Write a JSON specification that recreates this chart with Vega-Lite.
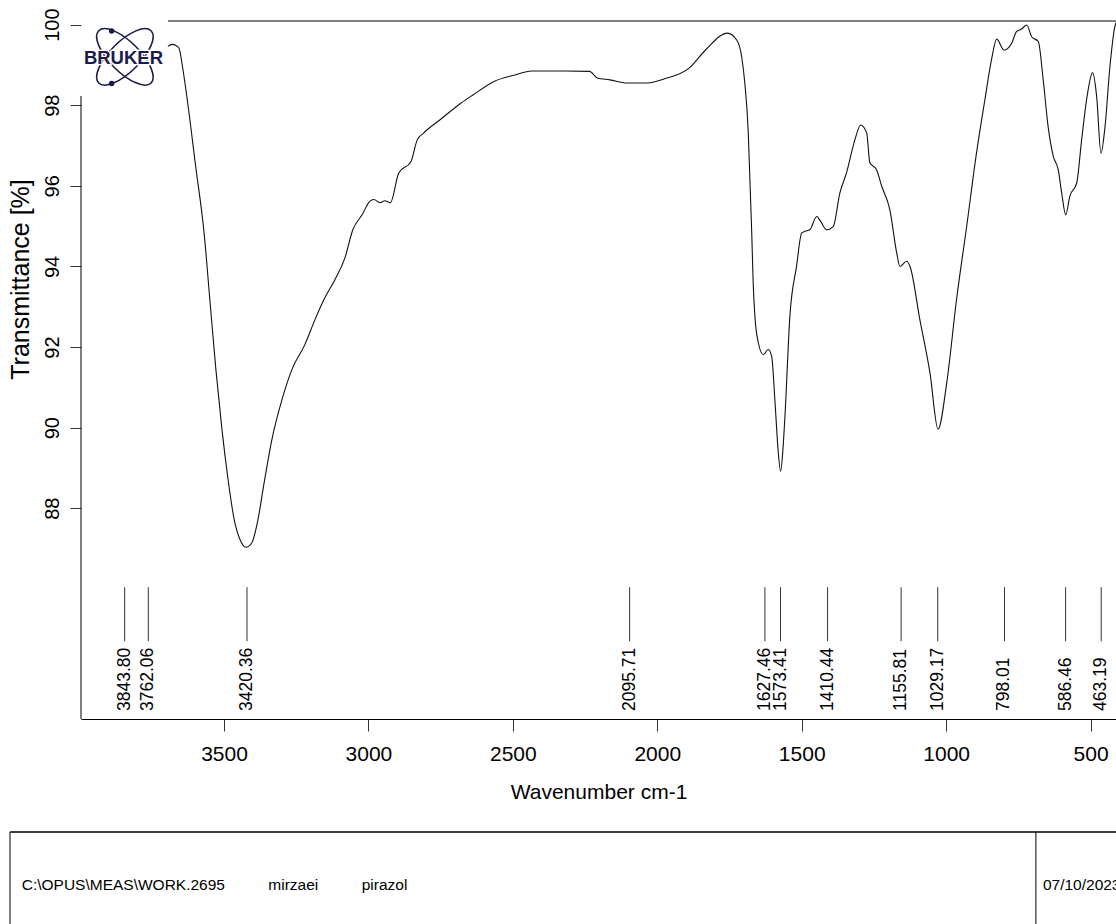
{
  "$schema": "https://vega.github.io/schema/vega-lite/v6.json",
  "autosize": {"type": "none"},
  "padding": {"left": 81, "top": 21, "right": 0, "bottom": 205},
  "width": 1035,
  "height": 698,
  "background": "white",
  "config": {"view": {"stroke": null}},
  "datasets": {
    "spectrum": [
      {"wn": 3694, "T": 99.46}, {"wn": 3680, "T": 99.51}, {"wn": 3666, "T": 99.48}, {"wn": 3656, "T": 99.42},
      {"wn": 3642, "T": 98.88}, {"wn": 3627, "T": 98.13}, {"wn": 3598, "T": 96.48}, {"wn": 3569, "T": 94.84},
      {"wn": 3549, "T": 93.18}, {"wn": 3528, "T": 91.44}, {"wn": 3507, "T": 89.95}, {"wn": 3486, "T": 88.72},
      {"wn": 3465, "T": 87.73}, {"wn": 3445, "T": 87.23}, {"wn": 3424, "T": 87.03}, {"wn": 3403, "T": 87.15},
      {"wn": 3382, "T": 87.73}, {"wn": 3362, "T": 88.59}, {"wn": 3334, "T": 89.71}, {"wn": 3299, "T": 90.70},
      {"wn": 3265, "T": 91.44}, {"wn": 3220, "T": 92.06}, {"wn": 3185, "T": 92.68}, {"wn": 3154, "T": 93.18},
      {"wn": 3116, "T": 93.67}, {"wn": 3081, "T": 94.22}, {"wn": 3054, "T": 94.91}, {"wn": 3022, "T": 95.28},
      {"wn": 2996, "T": 95.61}, {"wn": 2981, "T": 95.66}, {"wn": 2960, "T": 95.58}, {"wn": 2943, "T": 95.63},
      {"wn": 2924, "T": 95.58}, {"wn": 2895, "T": 96.32}, {"wn": 2853, "T": 96.60}, {"wn": 2831, "T": 97.14},
      {"wn": 2809, "T": 97.31}, {"wn": 2752, "T": 97.64}, {"wn": 2680, "T": 98.05}, {"wn": 2637, "T": 98.26},
      {"wn": 2565, "T": 98.59}, {"wn": 2493, "T": 98.75}, {"wn": 2436, "T": 98.85}, {"wn": 2321, "T": 98.85},
      {"wn": 2235, "T": 98.84}, {"wn": 2206, "T": 98.67}, {"wn": 2164, "T": 98.63}, {"wn": 2106, "T": 98.55},
      {"wn": 2034, "T": 98.55}, {"wn": 1977, "T": 98.65}, {"wn": 1890, "T": 98.92}, {"wn": 1833, "T": 99.37},
      {"wn": 1757, "T": 99.79}, {"wn": 1725, "T": 99.62}, {"wn": 1708, "T": 99.21}, {"wn": 1697, "T": 98.55},
      {"wn": 1685, "T": 97.31}, {"wn": 1679, "T": 96.07}, {"wn": 1673, "T": 94.83}, {"wn": 1668, "T": 93.59},
      {"wn": 1662, "T": 92.76}, {"wn": 1650, "T": 92.10}, {"wn": 1633, "T": 91.81}, {"wn": 1616, "T": 91.94},
      {"wn": 1604, "T": 91.77}, {"wn": 1593, "T": 90.70}, {"wn": 1582, "T": 89.46}, {"wn": 1573, "T": 88.92},
      {"wn": 1565, "T": 89.46}, {"wn": 1558, "T": 90.29}, {"wn": 1541, "T": 92.76}, {"wn": 1518, "T": 94.00},
      {"wn": 1500, "T": 94.83}, {"wn": 1489, "T": 94.87}, {"wn": 1472, "T": 94.91}, {"wn": 1448, "T": 95.24},
      {"wn": 1434, "T": 95.11}, {"wn": 1414, "T": 94.91}, {"wn": 1391, "T": 94.99}, {"wn": 1368, "T": 95.82},
      {"wn": 1345, "T": 96.32}, {"wn": 1316, "T": 97.14}, {"wn": 1296, "T": 97.51}, {"wn": 1275, "T": 97.31},
      {"wn": 1264, "T": 96.57}, {"wn": 1241, "T": 96.40}, {"wn": 1223, "T": 95.99}, {"wn": 1195, "T": 95.41},
      {"wn": 1171, "T": 94.33}, {"wn": 1160, "T": 94.00}, {"wn": 1137, "T": 94.13}, {"wn": 1125, "T": 94.00},
      {"wn": 1091, "T": 92.68}, {"wn": 1056, "T": 91.36}, {"wn": 1028, "T": 89.96}, {"wn": 998, "T": 91.11},
      {"wn": 964, "T": 93.18}, {"wn": 929, "T": 94.99}, {"wn": 895, "T": 96.81}, {"wn": 866, "T": 98.13},
      {"wn": 843, "T": 99.13}, {"wn": 825, "T": 99.64}, {"wn": 800, "T": 99.37}, {"wn": 773, "T": 99.54},
      {"wn": 756, "T": 99.83}, {"wn": 739, "T": 99.89}, {"wn": 721, "T": 99.99}, {"wn": 704, "T": 99.70},
      {"wn": 681, "T": 99.58}, {"wn": 664, "T": 98.63}, {"wn": 647, "T": 97.47}, {"wn": 629, "T": 96.73},
      {"wn": 612, "T": 96.40}, {"wn": 600, "T": 95.82}, {"wn": 586, "T": 95.28}, {"wn": 572, "T": 95.74},
      {"wn": 548, "T": 96.07}, {"wn": 531, "T": 97.14}, {"wn": 514, "T": 98.13}, {"wn": 493, "T": 98.81},
      {"wn": 479, "T": 98.22}, {"wn": 464, "T": 96.81}, {"wn": 450, "T": 97.47}, {"wn": 433, "T": 98.96},
      {"wn": 416, "T": 99.95}, {"wn": 412, "T": 100.05}
    ],
    "peaks": [
      {"wn": 3843.80, "label": "3843.80"}, {"wn": 3762.06, "label": "3762.06"}, {"wn": 3420.36, "label": "3420.36"},
      {"wn": 2095.71, "label": "2095.71"}, {"wn": 1627.46, "label": "1627.46"}, {"wn": 1573.41, "label": "1573.41"},
      {"wn": 1410.44, "label": "1410.44"}, {"wn": 1155.81, "label": "1155.81"}, {"wn": 1029.17, "label": "1029.17"},
      {"wn": 798.01, "label": "798.01"}, {"wn": 586.46, "label": "586.46"}, {"wn": 463.19, "label": "463.19"}
    ]
  },
  "layer": [
    {
      "data": {"name": "spectrum"},
      "mark": {"type": "line", "color": "#111", "strokeWidth": 1.1, "interpolate": "monotone"},
      "encoding": {
        "x": {
          "field": "wn", "type": "quantitative", "sort": null,
          "scale": {"domain": [3995, 412], "nice": false, "zero": false},
          "axis": {
            "title": "Wavenumber cm-1", "values": [3500, 3000, 2500, 2000, 1500, 1000, 500], "format": "d",
            "grid": false, "domainColor": "#000", "domainWidth": 1, "tickColor": "#333", "tickSize": 12, "tickWidth": 1,
            "labelFont": "Liberation Sans", "labelFontSize": 21, "labelColor": "#000", "labelPadding": 12,
            "titleFont": "Liberation Sans", "titleFontSize": 21, "titleFontWeight": "normal", "titleColor": "#000",
            "titleBaseline": "alphabetic", "titleY": 79
          }
        },
        "y": {
          "field": "T", "type": "quantitative",
          "scale": {"domain": [82.77, 100.09], "nice": false, "zero": false},
          "axis": {
            "title": "Transmittance [%]", "values": [88, 90, 92, 94, 96, 98, 100], "format": "d",
            "grid": false, "domain": false, "tickColor": "#333", "tickSize": 11, "tickWidth": 1,
            "labelAngle": 270, "labelFont": "Liberation Sans", "labelFontSize": 20, "labelColor": "#000", "labelPadding": 8,
            "titleFont": "Liberation Sans", "titleFontSize": 25, "titleFontWeight": "normal", "titleColor": "#000",
            "titleX": -61, "titleY": 258, "titleAlign": "center", "titleBaseline": "middle", "titleAngle": 270
          }
        }
      }
    },
    {
      "data": {"name": "peaks"},
      "mark": {"type": "rule", "color": "#333", "strokeWidth": 1},
      "encoding": {
        "x": {"field": "wn", "type": "quantitative"},
        "y": {"datum": 86.04},
        "y2": {"datum": 84.70}
      }
    },
    {
      "data": {"name": "peaks"},
      "mark": {"type": "text", "angle": 270, "align": "left", "baseline": "middle", "font": "Liberation Sans", "fontSize": 17.5, "color": "#000"},
      "encoding": {
        "x": {"field": "wn", "type": "quantitative"},
        "y": {"datum": 82.97},
        "text": {"field": "label"}
      }
    },
    {
      "data": {"values": [{}]},
      "mark": {"type": "rule", "color": "#000", "strokeWidth": 1},
      "encoding": {"x": {"datum": 3995}, "y": {"datum": 98.23}, "y2": {"datum": 82.77}}
    },
    {
      "data": {"values": [{}]},
      "mark": {"type": "rule", "color": "#000", "strokeWidth": 1},
      "encoding": {"x": {"datum": 3694}, "x2": {"datum": 412}, "y": {"datum": 100.09}}
    },
    {
      "data": {"values": [{}]},
      "mark": {"type": "point", "shape": "M -1 0 A 1 0.405 0 1 1 1 0 A 1 0.405 0 1 1 -1 0 Z", "size": 5476, "filled": false, "stroke": "#1b1b4d", "strokeWidth": 1.6, "angle": 45, "opacity": 1},
      "encoding": {"x": {"datum": 3843}, "y": {"datum": 99.2}}
    },
    {
      "data": {"values": [{}]},
      "mark": {"type": "point", "shape": "M -1 0 A 1 0.405 0 1 1 1 0 A 1 0.405 0 1 1 -1 0 Z", "size": 5476, "filled": false, "stroke": "#1b1b4d", "strokeWidth": 1.6, "angle": 135, "opacity": 1},
      "encoding": {"x": {"datum": 3843}, "y": {"datum": 99.2}}
    },
    {
      "data": {"values": [{}]},
      "mark": {"type": "point", "shape": "circle", "size": 30, "filled": true, "color": "#1b1b4d", "opacity": 1},
      "encoding": {"x": {"datum": 3889}, "y": {"datum": 99.84}}
    },
    {
      "data": {"values": [{}]},
      "mark": {"type": "point", "shape": "circle", "size": 30, "filled": true, "color": "#1b1b4d", "opacity": 1},
      "encoding": {"x": {"datum": 3889}, "y": {"datum": 98.54}}
    },
    {
      "data": {"values": [{}]},
      "mark": {"type": "text", "text": "BRUKER", "font": "Liberation Sans", "fontWeight": "bold", "fontSize": 18.5, "color": "#1b1b4d", "align": "center", "baseline": "middle", "stroke": "white", "strokeWidth": 2.5, "strokeOpacity": 1},
      "encoding": {"x": {"datum": 3848}, "y": {"datum": 99.18}}
    },
    {
      "data": {"values": [{}]},
      "mark": {"type": "text", "text": "BRUKER", "font": "Liberation Sans", "fontWeight": "bold", "fontSize": 18.5, "color": "#1b1b4d", "align": "center", "baseline": "middle"},
      "encoding": {"x": {"datum": 3848}, "y": {"datum": 99.18}}
    },
    {
      "data": {"values": [{}]},
      "mark": {"type": "rule", "color": "#000", "strokeWidth": 1.5},
      "encoding": {"x": {"datum": 4240.8}, "x2": {"datum": 412}, "y": {"datum": 79.966}}
    },
    {
      "data": {"values": [{}]},
      "mark": {"type": "rule", "color": "#000", "strokeWidth": 1},
      "encoding": {"x": {"datum": 4240.8}, "y": {"datum": 79.966}, "y2": {"datum": 77.4}}
    },
    {
      "data": {"values": [{}]},
      "mark": {"type": "rule", "color": "#000", "strokeWidth": 1},
      "encoding": {"x": {"datum": 689.3}, "y": {"datum": 79.966}, "y2": {"datum": 77.4}}
    },
    {
      "data": {"values": [{"text": "C:\\OPUS\\MEAS\\WORK.2695"}]},
      "mark": {"type": "text", "font": "Liberation Sans", "fontSize": 15.5, "color": "#000", "align": "left", "baseline": "alphabetic"},
      "encoding": {"x": {"datum": 4200.3}, "y": {"datum": 78.527}, "text": {"field": "text"}}
    },
    {
      "data": {"values": [{"text": "mirzaei"}]},
      "mark": {"type": "text", "font": "Liberation Sans", "fontSize": 15.5, "color": "#000", "align": "left", "baseline": "alphabetic"},
      "encoding": {"x": {"datum": 3346.7}, "y": {"datum": 78.527}, "text": {"field": "text"}}
    },
    {
      "data": {"values": [{"text": "pirazol"}]},
      "mark": {"type": "text", "font": "Liberation Sans", "fontSize": 15.5, "color": "#000", "align": "left", "baseline": "alphabetic"},
      "encoding": {"x": {"datum": 3023.4}, "y": {"datum": 78.527}, "text": {"field": "text"}}
    },
    {
      "data": {"values": [{"text": "07/10/2023"}]},
      "mark": {"type": "text", "font": "Liberation Sans", "fontSize": 15.5, "color": "#000", "align": "left", "baseline": "alphabetic"},
      "encoding": {"x": {"datum": 665}, "y": {"datum": 78.527}, "text": {"field": "text"}}
    }
  ]
}
